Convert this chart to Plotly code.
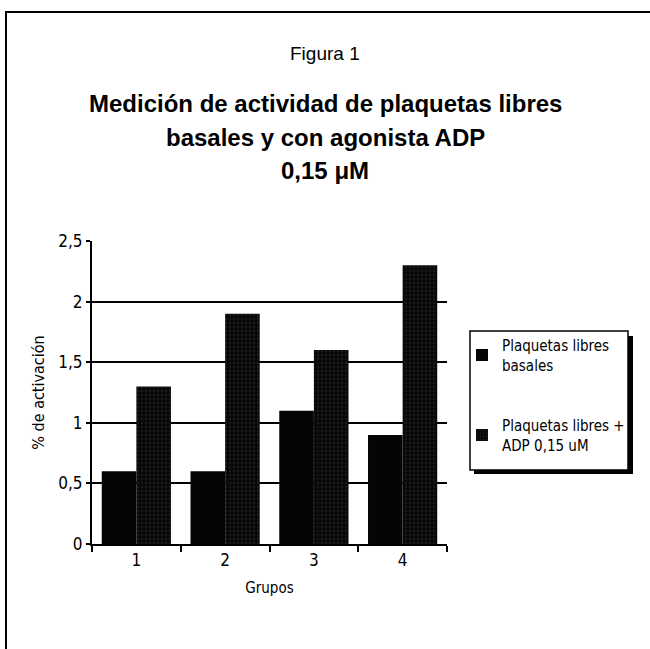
import plotly.graph_objects as go

# Data
grupos = ["1", "2", "3", "4"]
basales = [0.6, 0.6, 1.1, 0.9]
con_adp = [1.3, 1.9, 1.6, 2.3]
y_ticks = [0, 0.5, 1, 1.5, 2, 2.5]
y_tick_text = ["0", "0,5", "1", "1,5", "2", "2,5"]

W, H = 650, 649
# plot area in pixels
L, R, T, B = 92, 447, 241, 544

def px(x):
    return (x - L) / (R - L)

def py(y):
    return (B - y) / (B - T)

NARROW = "DejaVu Sans Condensed, Liberation Sans, Arial, sans-serif"
TITLE = "Liberation Sans, Arial, Helvetica, sans-serif"

fig = go.Figure()
fig.add_trace(go.Bar(
    x=grupos, y=basales, name="Plaquetas libres<br>basales",
    marker=dict(color="#050505", line=dict(width=0)),
    legendgroup="a",
))
fig.add_trace(go.Bar(
    x=grupos, y=con_adp, name="Plaquetas libres +<br>ADP 0,15 uM",
    marker=dict(color="#080808", line=dict(width=0),
                pattern=dict(shape=".", fgcolor="#2c2c2c", bgcolor="#080808",
                             size=4, solidity=0.25)),
    legendgroup="b",
))

shapes = [
    # page frame: top and left rules
    dict(type="line", xref="paper", yref="paper", x0=px(5), x1=px(652), y0=py(12), y1=py(12),
         line=dict(color="black", width=2)),
    dict(type="line", xref="paper", yref="paper", x0=px(6), x1=px(6), y0=py(12), y1=py(660),
         line=dict(color="black", width=2)),
    # legend box with drop shadow
    dict(type="rect", xref="paper", yref="paper", x0=px(474), x1=px(633), y0=py(336), y1=py(474),
         fillcolor="black", line=dict(width=0), layer="above"),
    dict(type="rect", xref="paper", yref="paper", x0=px(470), x1=px(628), y0=py(331), y1=py(470),
         fillcolor="white", line=dict(color="black", width=1.5), layer="above"),
]

def title_line(text, ypix, size, bold):
    return dict(text=f"<b>{text}</b>" if bold else text,
                x=px(325), y=py(ypix), xref="paper", yref="paper",
                xanchor="center", yanchor="middle", showarrow=False,
                font=dict(size=size, color="black", family=TITLE))

annotations = [
    title_line("Figura 1", 53, 19, False),
    title_line("Medición de actividad de plaquetas libres", 103, 24, True),
    title_line("basales y con agonista ADP", 137, 24, True),
    title_line("0,15 μM", 170, 24, True),
]

fig.update_layout(
    width=W, height=H,
    margin=dict(l=L, r=W - R, t=T, b=H - B, autoexpand=False),
    paper_bgcolor="white", plot_bgcolor="white",
    barmode="group", bargap=0.22, bargroupgap=0,
    font=dict(family=NARROW, color="black", size=16),
    shapes=shapes, annotations=annotations,
    showlegend=True,
    legend=dict(x=px(462), y=py(329), xanchor="left", yanchor="top",
                bgcolor="rgba(0,0,0,0)", borderwidth=0,
                font=dict(size=15, family=NARROW, color="black"),
                traceorder="grouped", tracegroupgap=38),
    xaxis=dict(showline=True, linecolor="black", linewidth=2,
               ticks="outside", ticklen=6, tickwidth=2, tickcolor="black",
               tickson="boundaries", showgrid=False,
               title=dict(text="Grupos", font=dict(size=15), standoff=13),
               tickfont=dict(size=17)),
    yaxis=dict(range=[0, 2.5], tickvals=y_ticks, ticktext=y_tick_text,
               showline=True, linecolor="black", linewidth=2,
               ticks="outside", ticklen=4, tickwidth=2, tickcolor="black",
               showgrid=True, gridcolor="black", gridwidth=2,
               zeroline=False,
               title=dict(text="% de activación", font=dict(size=16), standoff=10),
               tickfont=dict(size=17)),
)

fig.write_html("out.html")
